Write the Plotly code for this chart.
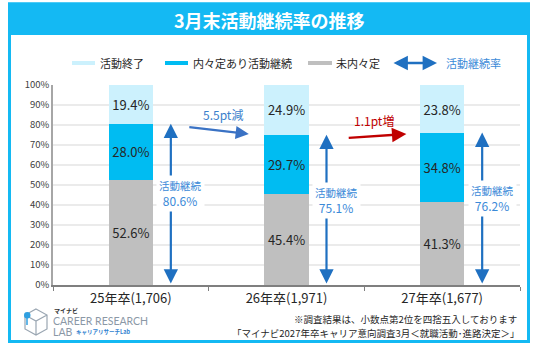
import plotly.graph_objects as go

# --- data -----------------------------------------------------------------
categories = ["25年卒(1,706)", "26年卒(1,971)", "27年卒(1,677)"]
not_offered = [52.6, 45.4, 41.3]        # 未内々定
offered_active = [28.0, 29.7, 34.8]     # 内々定あり活動継続
finished = [19.4, 24.9, 23.8]           # 活動終了
continue_rate = [80.6, 75.1, 76.2]      # 活動継続率
y_ticks = list(range(0, 101, 10))

C_LIGHT = "#ccf1fd"
C_CYAN = "#00bcf2"
C_GRAY = "#bfbfbf"
C_BLUE = "#1f70c1"
C_BLUE_TXT = "#3b8ad8"
C_RED = "#c00000"
C_FRAME = "#14b9f3"
FONT = "Noto Sans CJK JP"

W, H = 536, 345
# plot area in figure pixels
PX0, PX1, PY0, PY1 = 53, 520, 85, 285
CAT_W = (PX1 - PX0) / len(categories)


def px(x):
    return x / W


def py(y):
    return 1 - y / H


def note(x, y, text, size, color, xanchor="center", family=FONT):
    """Free text placed in figure pixels, vertically centred on y."""
    return dict(x=px(x), y=py(y), xref="paper", yref="paper",
                xanchor=xanchor, yanchor="middle", showarrow=False, text=text,
                font=dict(family=family, size=size, color=color))


fig = go.Figure()

series = [
    ("未内々定", not_offered, C_GRAY),
    ("内々定あり活動継続", offered_active, C_CYAN),
    ("活動終了", finished, C_LIGHT),
]
for name, vals, col in series:
    fig.add_trace(go.Bar(
        x=categories, y=vals, name=name, marker=dict(color=col, line_width=0),
        text=[f"{v:.1f}%" for v in vals], textposition="inside",
        insidetextanchor="middle",
        textfont=dict(family=FONT, size=13, color="#262626"),
        showlegend=False, hoverinfo="skip",
    ))

ann = []
shapes = []

# double-headed arrows beside each bar: continuing share
off = 40 / CAT_W
lab_off = 50 / CAT_W
for i, rate in enumerate(continue_rate):
    ann.append(dict(
        x=i + off, y=rate, ax=i + off, ay=0, xref="x", yref="y",
        axref="x", ayref="y", showarrow=True, arrowhead=2, arrowside="end+start",
        arrowsize=1.3, arrowwidth=2.2, arrowcolor=C_BLUE, text="",
    ))
for i, rate in enumerate(continue_rate):
    ann.append(dict(
        x=i + lab_off, y=rate * 0.565, xref="x", yref="y", showarrow=False,
        xanchor="center", yanchor="middle",
        text=f"<span style='font-size:10.5px'>活動継続</span><br>{rate:.1f}%",
        bgcolor="white", borderpad=2,
        font=dict(family=FONT, size=12, color=C_BLUE_TXT), align="center",
    ))

# change arrows between years
d1 = round(continue_rate[0] - continue_rate[1], 1)
d2 = round(continue_rate[2] - continue_rate[1], 1)
ann.append(dict(
    x=0.758, y=continue_rate[1] + 0.4, ax=0.366, ay=continue_rate[0] - 1.6,
    xref="x", yref="y", axref="x", ayref="y", showarrow=True, arrowhead=2,
    arrowsize=1.2, arrowwidth=2.2, arrowcolor="#3a72c4", text="",
))
ann.append(dict(
    x=0.59, y=85.3, xref="x", yref="y", showarrow=False, text=f"{d1}pt減",
    font=dict(family=FONT, size=12, color="#3a80cc"),
))
ann.append(dict(
    x=1.77, y=continue_rate[2] - 0.7, ax=1.39, ay=continue_rate[1] - 1.6,
    xref="x", yref="y", axref="x", ayref="y", showarrow=True, arrowhead=2,
    arrowsize=1.2, arrowwidth=2.4, arrowcolor=C_RED, text="",
))
ann.append(dict(
    x=1.565, y=82.2, xref="x", yref="y", showarrow=False, text=f"{d2}pt増",
    font=dict(family=FONT, size=12, color=C_RED),
))

# outer frame and title band
shapes.append(dict(type="rect", xref="paper", yref="paper",
                   x0=px(9.5), x1=px(528.5), y0=py(341.5), y1=py(4),
                   line=dict(color=C_FRAME, width=3), fillcolor="rgba(0,0,0,0)",
                   layer="below"))
shapes.append(dict(type="rect", xref="paper", yref="paper",
                   x0=px(8), x1=px(530), y0=py(35), y1=py(2.5),
                   line_width=0, fillcolor=C_FRAME))
ann.append(note(269, 19.5, "<b>3月末活動継続率の推移</b>", 18, "white"))

# legend row
leg_py = 63
leg_y = py(leg_py)
swatches = [(72, 95, C_LIGHT, 98, "活動終了"),
            (165, 188, C_CYAN, 191, "内々定あり活動継続"),
            (308, 332, C_GRAY, 334, "未内々定")]
for x0, x1, col, tx, label in swatches:
    shapes.append(dict(type="line", xref="paper", yref="paper",
                       x0=px(x0), x1=px(x1), y0=leg_y, y1=leg_y,
                       line=dict(color=col, width=4)))
    ann.append(note(tx, leg_py, label, 11, "#262626", xanchor="left"))
ann.append(dict(x=px(437), y=leg_y, ax=-45, ay=0, xref="paper",
                yref="paper", axref="pixel", ayref="pixel", showarrow=True,
                arrowhead=2, arrowside="end+start", arrowsize=1.2,
                arrowwidth=2.4, arrowcolor=C_BLUE, text=""))
ann.append(note(444, leg_py, "活動継続率", 11, C_BLUE_TXT, xanchor="left"))

# footnotes
ann.append(note(519, 319, "※調査結果は、小数点第2位を四捨五入しております",
                9.5, "#262626", xanchor="right"))
ann.append(note(521, 332.5, "「マイナビ2027年卒キャリア意向調査3月＜就職活動･進路決定＞」",
                9.5, "#262626", xanchor="right"))

# lab logo
cube = "M 36 309 L 47 315 L 47 329 L 36 335 L 25 329 L 25 315 Z M 25 315 L 36 321 L 47 315 M 36 321 L 36 335"


def path_to_paper(p):
    out = []
    toks = p.split()
    i = 0
    while i < len(toks):
        t = toks[i]
        if t in ("M", "L"):
            out.append(f"{t} {px(float(toks[i+1])):.5f} {py(float(toks[i+2])):.5f}")
            i += 3
        else:
            out.append(t)
            i += 1
    return " ".join(out)


shapes.append(dict(type="path", xref="paper", yref="paper",
                   path=path_to_paper(cube), fillcolor="rgba(0,0,0,0)",
                   line=dict(color="#9aa6b2", width=1.2)))
shapes.append(dict(type="circle", xref="paper", yref="paper",
                   x0=px(24), x1=px(30.5), y0=py(318.5), y1=py(312),
                   line_width=0, fillcolor="#2f9fe0"))
shapes.append(dict(type="line", xref="paper", yref="paper",
                   x0=px(27), x1=px(27), y0=py(318), y1=py(325),
                   line=dict(color="#2f9fe0", width=1.5)))
ann.append(note(52, 310, "<b>マイナビ</b>", 6, "#333", xanchor="left"))
ann.append(note(51, 321, "CAREER RESEARCH", 10.5, "#8b98a6", xanchor="left",
                family="Lato"))
ann.append(note(51, 332, "LAB", 10.5, "#8b98a6", xanchor="left", family="Lato"))
ann.append(note(74, 332, "<b>キャリアリサーチLab</b>", 5.5, "#2f7fd0",
                xanchor="left"))

fig.update_layout(
    width=W, height=H, margin=dict(l=0, r=0, t=0, b=0, autoexpand=False),
    barmode="stack", bargap=0.717,
    paper_bgcolor="white", plot_bgcolor="white",
    font=dict(family=FONT),
    xaxis=dict(type="category", domain=[PX0 / W, PX1 / W], automargin=False,
               showgrid=False, showline=True,
               linecolor="#7f7f7f", linewidth=2, ticks="outside",
               tickson="boundaries", ticklen=4, tickcolor="#7f7f7f",
               tickfont=dict(family=FONT, size=13, color="#262626"),
               range=[-0.5, 2.5]),
    yaxis=dict(range=[0, 100], domain=[py(PY1), py(PY0)], automargin=False,
               tickvals=y_ticks, ticktext=[f"{v}%" for v in y_ticks],
               showgrid=True, gridcolor="#ebebeb", gridwidth=1.5,
               showline=True, linecolor="#a6a6a6", linewidth=1.5,
               ticks="", zeroline=False,
               tickfont=dict(family=FONT, size=9.5, color="#404040")),
    annotations=ann, shapes=shapes, uniformtext=dict(mode=False),
)

fig.write_html("out.html")
